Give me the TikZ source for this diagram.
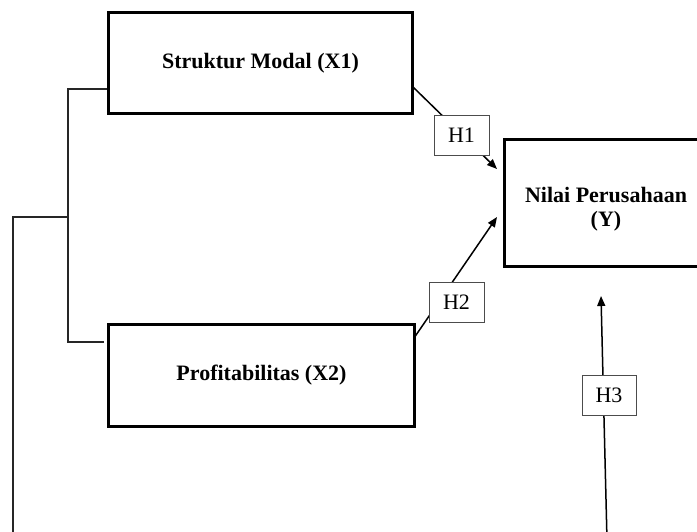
\documentclass[tikz,border=0pt]{standalone}
\usepackage{fontspec}
\setmainfont{Liberation Serif}
\usetikzlibrary{arrows.meta}
\begin{document}
\begin{tikzpicture}[x=1pt,y=-1pt,
  mainbox/.style={draw=black, line width=3pt, fill=white, inner sep=0pt,
    font=\fontsize{22}{24.5}\selectfont\bfseries, align=center},
  hbox/.style={draw=black!70, line width=0.8pt, fill=white, inner sep=0pt,
    minimum width=55pt, minimum height=40pt, font=\fontsize{22}{24}\selectfont},
  conn/.style={line width=1.5pt, black},
  arrow/.style={conn, -{Triangle[length=10pt,width=8pt]}},
  bracket/.style={line width=1.6pt, black!85}]
\useasboundingbox (0,0) rectangle (697,532);
% main boxes
\node[mainbox, minimum width=304pt, minimum height=101pt] (X1) at (260.5,63) {Struktur Modal (X1)};
\node[mainbox, minimum width=306pt, minimum height=102pt] (X2) at (261.5,375.5) {Profitabilitas (X2)};
\node[mainbox, minimum width=204pt, minimum height=127pt] (Y) at (606,203) {\rule{0pt}{28pt}Nilai Perusahaan\\(Y)};
% connector end points
\coordinate (s1) at (413,87);
\coordinate (t1) at (497,169);
\coordinate (s2) at (414,338);
\coordinate (t2) at (497,217);
\coordinate (s3) at (607,540);
\coordinate (t3) at (601,296);
\draw[arrow] (s1) -- (t1);
\draw[arrow] (s2) -- (t2);
\draw[arrow] (s3) -- (t3);
% hypothesis labels
\node[hbox] (H1) at (461.5,135) {H1};
\node[hbox] (H2) at (456.5,302) {H2};
\node[hbox, minimum width=54pt] (H3) at (609,395) {H3};
% bracket lines
\coordinate (b1) at (68,89);
\coordinate (b2) at (68,342);
\coordinate (b3) at (68,217);
\coordinate (b4) at (13,217);
\coordinate (b5) at (13,540);
\draw[bracket] (X1.west |- b1) -- (b1) -- (b2) -- ([xshift=-3pt]X2.west |- b2);
\draw[bracket] (b3) -- (b4) -- (b5);
\end{tikzpicture}
\end{document}
